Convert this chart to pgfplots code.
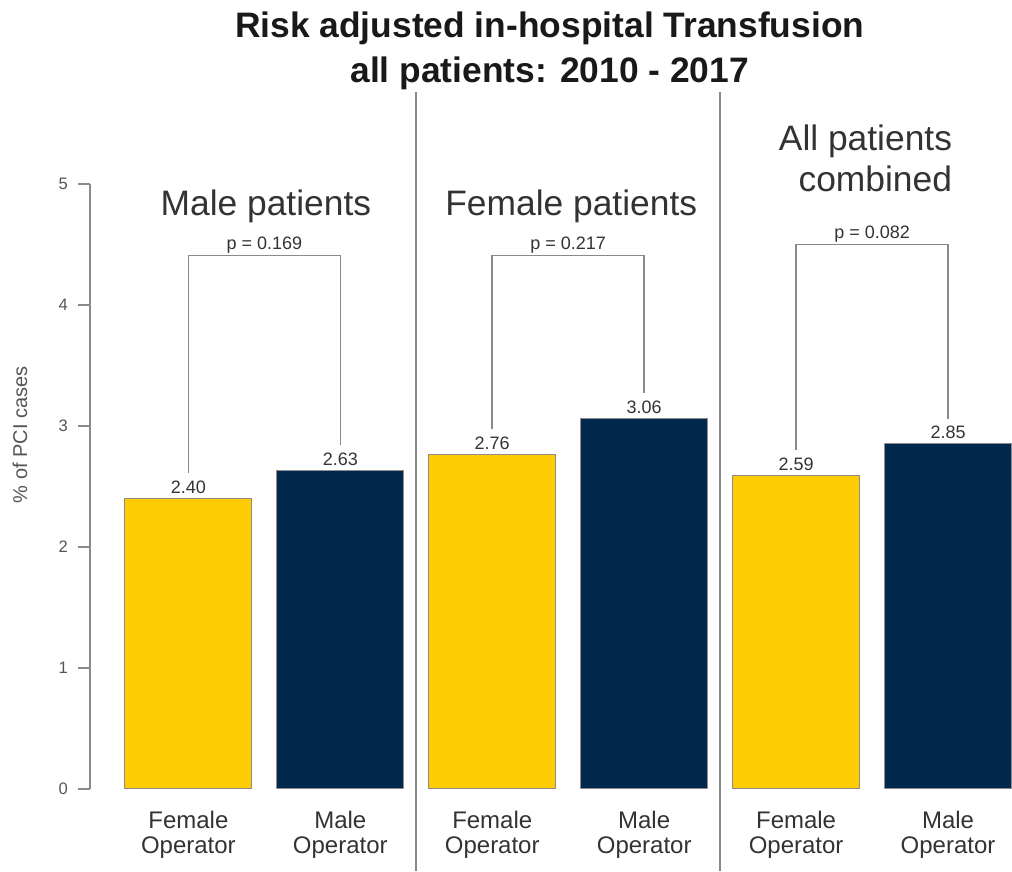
\documentclass[border=0pt]{standalone}
\usepackage{pgfplots}
\pgfplotsset{compat=1.18}
\usepackage{fontspec}
\setmainfont{Liberation Sans}
\definecolor{maize}{HTML}{FFCB05}
\definecolor{mblue}{HTML}{00274C}
\definecolor{txt}{HTML}{333333}
\definecolor{lin}{HTML}{8A8A8A}
\definecolor{tk}{HTML}{555555}

\begin{document}
\begin{tikzpicture}
\begin{axis}[
  x=76pt, y=60.5pt,
  xmin=-0.648, xmax=5.418, ymin=0, ymax=5,
  axis lines*=left,
  x axis line style={draw=none},
  y axis line style={lin, line width=0.9pt},
  xtick={0,1,2,3,4,5},
  xticklabels={Female\\Operator, Male\\Operator, Female\\Operator, Male\\Operator, Female\\Operator, Male\\Operator},
  xtick style={draw=none},
  xticklabel style={align=center, font=\fontsize{12}{12.5}\selectfont, text=txt, yshift=-1.5pt},
  ytick={0,1,2,3,4,5},
  tick align=outside, major tick length=6pt,
  ytick style={lin, line width=0.9pt},
  yticklabel style={font=\fontsize{8.3}{9}\selectfont, text=tk, xshift=-1.5pt},
  /pgf/number format/assume math mode=true,
  clip=false,
  ybar, bar width=63.5pt, bar shift=0pt,
  nodes near coords,
  nodes near coords style={font=\fontsize{9}{10}\selectfont, text=txt, anchor=base, inner sep=0pt, yshift=2.5pt,
    /pgf/number format/.cd, fixed, fixed zerofill, precision=2, assume math mode=true},
]
\addplot[fill=maize, draw=black!45, line width=0.5pt] coordinates {(0,2.40) (2,2.76) (4,2.59)};
\addplot[fill=mblue, draw=black!45, line width=0.5pt] coordinates {(1,2.63) (3,3.06) (5,2.85)};

% separators
\draw[lin, line width=1pt] (axis cs:1.5,-0.678) -- (axis cs:1.5,5.76);
\draw[lin, line width=1pt] (axis cs:3.5,-0.678) -- (axis cs:3.5,5.76);

% brackets
\draw[lin, line width=0.8pt] (axis cs:0,2.61) -- (axis cs:0,4.41) -- (axis cs:1,4.41) -- (axis cs:1,2.84);
\draw[lin, line width=0.8pt] (axis cs:2,2.97) -- (axis cs:2,4.41) -- (axis cs:3,4.41) -- (axis cs:3,3.27);
\draw[lin, line width=0.8pt] (axis cs:4,2.80) -- (axis cs:4,4.50) -- (axis cs:5,4.50) -- (axis cs:5,3.06);
\node[anchor=base, inner sep=0pt, font=\fontsize{9}{10}\selectfont, text=txt, yshift=3pt] at (axis cs:0.5,4.41) {p = 0.169};
\node[anchor=base, inner sep=0pt, font=\fontsize{9}{10}\selectfont, text=txt, yshift=3pt] at (axis cs:2.5,4.41) {p = 0.217};
\node[anchor=base, inner sep=0pt, font=\fontsize{9}{10}\selectfont, text=txt, yshift=3pt] at (axis cs:4.5,4.50) {p = 0.082};

% panel labels
\node[anchor=base, inner sep=0pt, font=\fontsize{17.7}{20.5}\selectfont, text=txt] at (axis cs:0.51,4.736) {Male patients};
\node[anchor=base, inner sep=0pt, font=\fontsize{17.7}{20.5}\selectfont, text=txt] at (axis cs:2.52,4.736) {Female patients};
\node[anchor=base east, inner sep=0pt, font=\fontsize{17.7}{20.5}\selectfont, text=txt] at (axis cs:5.029,5.273) {All patients};
\node[anchor=base east, inner sep=0pt, font=\fontsize{17.7}{20.5}\selectfont, text=txt] at (axis cs:5.029,4.934) {combined};

% title
\node[anchor=base, inner sep=0pt, font=\bfseries\fontsize{17.7}{21}\selectfont, text=black!90] at (axis cs:2.378,6.207) {Risk adjusted in-hospital Transfusion};
\node[anchor=base, inner sep=0pt, font=\bfseries\fontsize{17.7}{21}\selectfont, text=black!90] at (axis cs:2.378,5.835) {all patients: 2010 - 2017};

% y label
\node[rotate=90, inner sep=0pt, font=\fontsize{10}{11}\selectfont, text=tk] at (axis cs:-1.108,2.926) {\% of PCI cases};

% page box
\path (axis cs:-1.240,-0.678) rectangle (axis cs:5.418,6.521);
\end{axis}
\end{tikzpicture}
\end{document}
